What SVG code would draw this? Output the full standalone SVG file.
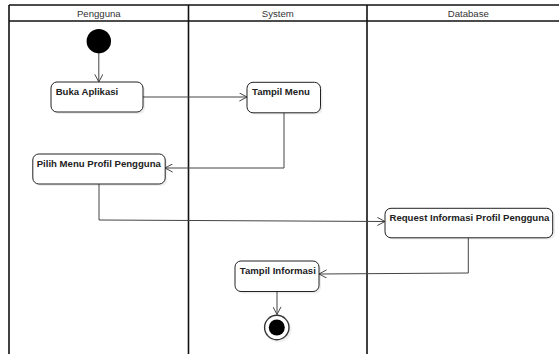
<svg xmlns="http://www.w3.org/2000/svg" width="559" height="354" viewBox="0 0 559 354">
  <style>
    .lane { fill: none; stroke: #111; stroke-width: 1.6; }
    .hdr { font-family: "Liberation Sans", Arial, sans-serif; font-size: 9.6px; fill: #333; text-anchor: middle; }
    .box { fill: #fff; stroke: #222; stroke-width: 1; }
    .shadow { fill: #000; opacity: 0.07; }
    .lbl { font-family: "Liberation Sans", Arial, sans-serif; font-size: 9.6px; font-weight: bold; fill: #222; }
    .conn { fill: none; stroke: #444; stroke-width: 1; }
  </style>
  <defs>
    <marker id="arr" viewBox="0 0 10 10" refX="9.5" refY="5" markerWidth="9" markerHeight="9" markerUnits="userSpaceOnUse" orient="auto">
      <path d="M1,0.5 L9.5,5 L1,9.5" fill="none" stroke="#444" stroke-width="1.1"/>
    </marker>
  </defs>
  <rect width="559" height="354" fill="#fff"/>

  <g id="swimlanes">
    <line class="lane" x1="9" y1="5" x2="570" y2="5"/>
    <line class="lane" x1="9" y1="21" x2="570" y2="21"/>
    <line class="lane" x1="9" y1="5" x2="9" y2="354"/>
    <line class="lane" x1="188.5" y1="5" x2="188.5" y2="354"/>
    <line class="lane" x1="367" y1="5" x2="367" y2="354"/>
    <text class="hdr" x="98.8" y="16.5">Pengguna</text>
    <text class="hdr" x="277.8" y="16.5">System</text>
    <text class="hdr" x="468.3" y="16.5">Database</text>
  </g>

  <g id="connectors">
    <line class="conn" x1="98.8" y1="53.4" x2="98.8" y2="82" marker-end="url(#arr)"/>
    <line class="conn" x1="143" y1="97" x2="247" y2="97" marker-end="url(#arr)"/>
    <polyline class="conn" points="284,113 284,168 165,168" marker-end="url(#arr)"/>
    <polyline class="conn" points="99,184 99,220 385,221.5" marker-end="url(#arr)"/>
    <polyline class="conn" points="468.3,238 468.3,273 319,274" marker-end="url(#arr)"/>
    <line class="conn" x1="277" y1="292" x2="277" y2="314.5" marker-end="url(#arr)"/>
  </g>

  <g id="start">
    <circle cx="98.8" cy="41.2" r="12.2" fill="#000"/>
  </g>

  <g id="buka-aplikasi">
    <rect class="shadow" x="53" y="84" width="92" height="30" rx="6"/>
    <rect class="box" x="51" y="82" width="92" height="30" rx="6"/>
    <text class="lbl" x="55.7" y="95">Buka Aplikasi</text>
  </g>

  <g id="tampil-menu">
    <rect class="shadow" x="249" y="84" width="73.5" height="30.5" rx="6"/>
    <rect class="box" x="247" y="82.3" width="73.5" height="30.5" rx="6"/>
    <text class="lbl" x="252" y="95">Tampil Menu</text>
  </g>

  <g id="pilih-menu">
    <rect class="shadow" x="35" y="156" width="132" height="30" rx="6"/>
    <rect class="box" x="32.8" y="154" width="132.4" height="30" rx="6"/>
    <text class="lbl" x="36.7" y="167">Pilih Menu Profil Pengguna</text>
  </g>

  <g id="request-informasi">
    <rect class="shadow" x="387" y="210" width="168" height="29.5" rx="6"/>
    <rect class="box" x="385" y="208.3" width="167.7" height="29.5" rx="6"/>
    <text class="lbl" x="389.5" y="221.2">Request Informasi Profil Pengguna</text>
  </g>

  <g id="tampil-informasi">
    <rect class="shadow" x="237" y="263" width="84" height="30.5" rx="6"/>
    <rect class="box" x="235" y="261" width="84" height="30.5" rx="6"/>
    <text class="lbl" x="239.8" y="274">Tampil Informasi</text>
  </g>

  <g id="end">
    <circle cx="278.5" cy="329.5" r="13" fill="#000" opacity="0.06"/>
    <circle cx="276.8" cy="327.5" r="12.2" fill="#fff" stroke="#333" stroke-width="1.4"/>
    <circle cx="276.8" cy="327.5" r="8" fill="#000"/>
  </g>
</svg>
